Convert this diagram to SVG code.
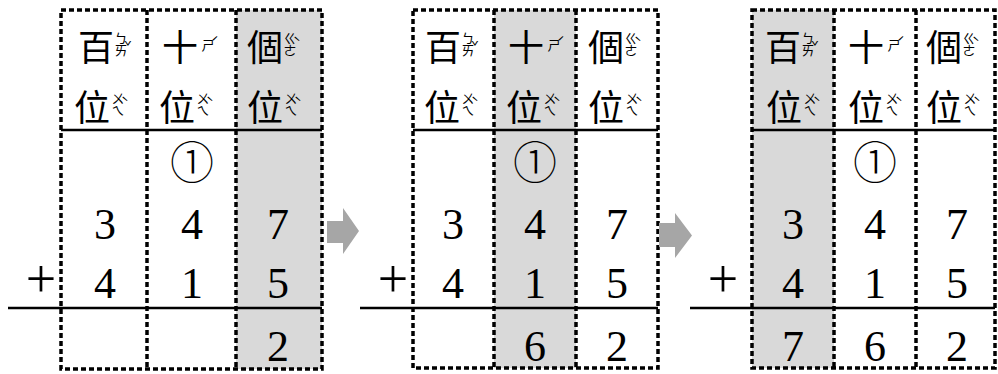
<svg xmlns="http://www.w3.org/2000/svg" width="998" height="374" viewBox="0 0 998 374">
<style>
.shade{fill:#d9d9d9}
.dash{stroke:#000;stroke-width:3.5;stroke-dasharray:5 3;fill:none}
.rule{stroke:#000;stroke-width:2.6}
.num{font-family:"Liberation Serif","DejaVu Serif",serif;font-size:44px;text-anchor:middle;fill:#000}
.plus{font-family:"Liberation Serif","DejaVu Serif",serif;font-size:54px;text-anchor:middle;fill:#000}
.carry{font-family:"Noto Sans CJK TC",sans-serif;font-size:44px;font-weight:300;text-anchor:middle;fill:#000}
.hz{font-family:"Noto Sans CJK TC",sans-serif;font-size:36px;text-anchor:middle;fill:#000}
.zy{font-family:"Noto Sans CJK TC",sans-serif;font-size:13px;text-anchor:middle;fill:#000}
.tone{font-family:"Noto Sans CJK TC",sans-serif;font-size:13px;text-anchor:middle;fill:#000}
.arrow{fill:#a6a6a6}
</style>
<defs>
<g id="h-bai"><text class="hz" x="0" y="0">百</text><text class="zy" x="25" y="-18">ㄅ</text><text class="zy" x="25" y="-6">ㄞ</text><text class="tone" x="32" y="-10">ˇ</text></g>
<g id="h-shi"><text class="hz" x="0" y="0">十</text><text class="zy" x="28" y="-11">ㄕ</text><text class="tone" x="35" y="-14">ˊ</text></g>
<g id="h-ge"><text class="hz" x="0" y="0">個</text><text class="zy" x="25" y="-18">ㄍ</text><text class="zy" x="25" y="-6">ㄜ</text><text class="tone" x="32" y="-14">ˋ</text></g>
<g id="h-wei"><text class="hz" x="0" y="0">位</text><text class="zy" x="26" y="-18">ㄨ</text><text class="zy" x="26" y="-6">ㄟ</text><text class="tone" x="33" y="-14">ˋ</text></g>
</defs>

<g id="panel1">
<rect class="shade" x="236" y="10" width="86" height="359"/>
<line class="rule" x1="61" y1="130" x2="322" y2="130"/>
<line class="rule" x1="8" y1="308" x2="322" y2="308"/>
<rect class="dash" x="61" y="10" width="261" height="359"/>
<line class="dash" x1="147" y1="10" x2="147" y2="369"/>
<line class="dash" x1="236" y1="10" x2="236" y2="369"/>
<use href="#h-bai" x="96" y="61"/>
<use href="#h-shi" x="180" y="61"/>
<use href="#h-ge" x="265" y="61"/>
<use href="#h-wei" x="92" y="121"/>
<use href="#h-wei" x="177" y="121"/>
<use href="#h-wei" x="265" y="121"/>
<text class="carry" x="192" y="179">①</text>
<text class="num" x="105" y="239">3</text>
<text class="num" x="192" y="239">4</text>
<text class="num" x="278" y="239">7</text>
<text class="plus" x="41" y="297">+</text>
<text class="num" x="105" y="298">4</text>
<text class="num" x="192" y="298">1</text>
<text class="num" x="278" y="298">5</text>
<text class="num" x="278" y="361">2</text>
</g>

<g id="panel2">
<rect class="shade" x="494" y="10" width="82" height="358"/>
<line class="rule" x1="413" y1="130" x2="658" y2="130"/>
<line class="rule" x1="360" y1="308" x2="658" y2="308"/>
<rect class="dash" x="413" y="10" width="245" height="358"/>
<line class="dash" x1="494" y1="10" x2="494" y2="368"/>
<line class="dash" x1="576" y1="10" x2="576" y2="368"/>
<use href="#h-bai" x="443" y="61"/>
<use href="#h-shi" x="526" y="61"/>
<use href="#h-ge" x="606" y="61"/>
<use href="#h-wei" x="442" y="121"/>
<use href="#h-wei" x="524" y="121"/>
<use href="#h-wei" x="606" y="121"/>
<text class="carry" x="535" y="179">①</text>
<text class="num" x="453" y="239">3</text>
<text class="num" x="535" y="239">4</text>
<text class="num" x="617" y="239">7</text>
<text class="plus" x="393" y="297">+</text>
<text class="num" x="453" y="298">4</text>
<text class="num" x="535" y="298">1</text>
<text class="num" x="617" y="298">5</text>
<text class="num" x="535" y="361">6</text>
<text class="num" x="617" y="361">2</text>
</g>

<g id="panel3">
<rect class="shade" x="752" y="10" width="82" height="358"/>
<line class="rule" x1="752" y1="130" x2="995" y2="130"/>
<line class="rule" x1="690" y1="308" x2="995" y2="308"/>
<rect class="dash" x="752" y="10" width="243" height="358"/>
<line class="dash" x1="834" y1="10" x2="834" y2="368"/>
<line class="dash" x1="916" y1="10" x2="916" y2="368"/>
<use href="#h-bai" x="783" y="61"/>
<use href="#h-shi" x="866" y="61"/>
<use href="#h-ge" x="944" y="61"/>
<use href="#h-wei" x="784" y="121"/>
<use href="#h-wei" x="866" y="121"/>
<use href="#h-wei" x="944" y="121"/>
<text class="carry" x="875" y="179">①</text>
<text class="num" x="793" y="239">3</text>
<text class="num" x="875" y="239">4</text>
<text class="num" x="957" y="239">7</text>
<text class="plus" x="723" y="297">+</text>
<text class="num" x="793" y="298">4</text>
<text class="num" x="875" y="298">1</text>
<text class="num" x="957" y="298">5</text>
<text class="num" x="793" y="361">7</text>
<text class="num" x="875" y="361">6</text>
<text class="num" x="957" y="361">2</text>
</g>

<g id="connectors">
<polygon class="arrow" points="327,221 343,221 343,208 359,231 343,254 343,243 327,243"/>
<polygon class="arrow" points="659,223 675,223 675,213 692,235.5 675,258 675,247 659,247"/>
</g>
</svg>
